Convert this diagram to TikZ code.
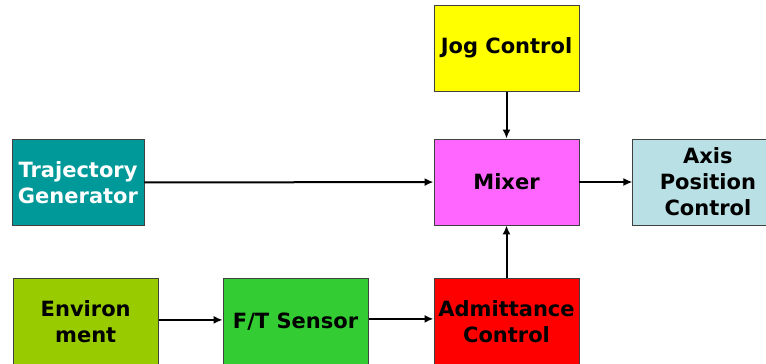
\documentclass[tikz,border=0pt]{standalone}
\usepackage{fontspec}
\setmainfont{DejaVu Sans}
\usepackage{xcolor}
\usepackage{tikz}
\usetikzlibrary{positioning,arrows.meta}

\definecolor{jogyellow}{HTML}{FFFF00}
\definecolor{trajteal}{HTML}{009999}
\definecolor{mixpink}{HTML}{FF66FF}
\definecolor{axisblue}{HTML}{B9E0E4}
\definecolor{envgreen}{HTML}{99CC00}
\definecolor{sensgreen}{HTML}{33CC33}
\definecolor{admred}{HTML}{FF0000}

\begin{document}
\begin{tikzpicture}[
    x=1pt, y=1pt,
    block/.style={draw=black!75, line width=0.9pt, minimum width=145pt, minimum height=86pt,
                  inner sep=2pt, align=center, font=\fontsize{21}{26}\selectfont\bfseries},
    arrow/.style={-{Latex[length=9pt,width=8pt]}, line width=2pt, black}
]
    \useasboundingbox (0,0) rectangle (766,-364);
    \clip (0,0) rectangle (766,-364);

    \node[block, fill=mixpink] (mixer) at (506.5,-182) {Mixer};
    \node[block, fill=jogyellow, above=47pt of mixer] (jog) {Jog Control};
    \node[block, fill=axisblue, minimum width=150pt, right=53pt of mixer] (axis) {Axis\\Position\\Control};
    \node[block, fill=trajteal, text=white, minimum width=132pt] (traj) at (78,-182.5) {Trajectory\\Generator};
    \node[block, fill=admred, below=53pt of mixer] (admit) {Admittance\\Control};
    \node[block, fill=sensgreen, left=65pt of admit] (sensor) {F/T Sensor};
    \node[block, fill=envgreen, left=64pt of sensor] (env) {Environ\\ment};

    \draw[arrow] (jog) -- (mixer);
    \draw[arrow] (traj) -- (mixer);
    \draw[arrow] (mixer) -- (axis);
    \draw[arrow] (env.east) ++(0,2) coordinate (envout) -- (envout -| sensor.west);
    \draw[arrow] (sensor.east) ++(0,3) coordinate (sensout) -- (sensout -| admit.west);
    \draw[arrow] (admit) -- (mixer);
\end{tikzpicture}
\end{document}
